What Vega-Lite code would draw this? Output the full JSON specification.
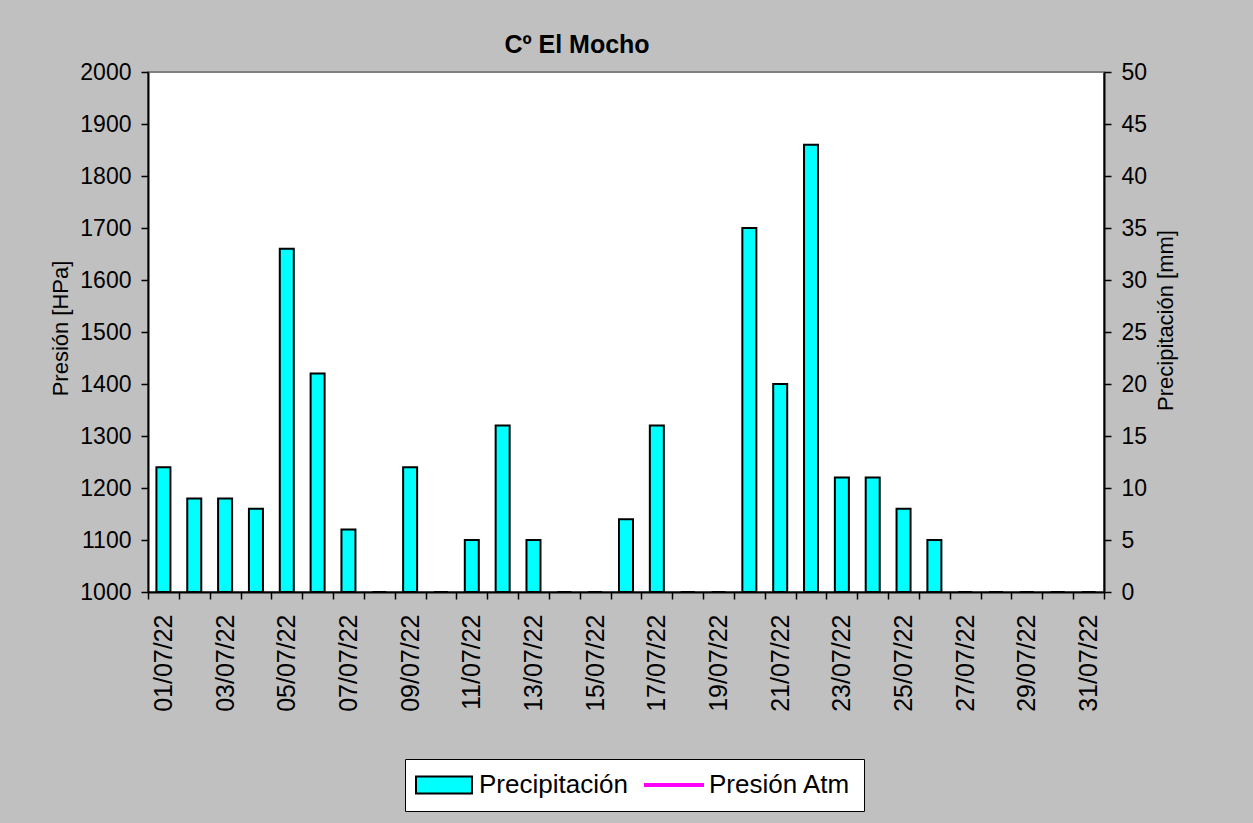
{
  "$schema": "https://vega.github.io/schema/vega-lite/v6.json",
  "width": 956,
  "height": 520,
  "autosize": {"type": "none"},
  "padding": {"left": 148, "top": 72, "right": 149, "bottom": 231},
  "background": "#C0C0C0",
  "title": {"text": "Cº El Mocho", "font": "Liberation Sans", "fontSize": 25, "fontWeight": "bold", "color": "black", "anchor": "middle", "frame": "group", "dx": -49, "dy": 34, "offset": 17, "baseline": "alphabetic"},
  "config": {
    "view": {"fill": "white", "stroke": "#808080", "strokeWidth": 2},
    "axis": {"labelFont": "Liberation Sans", "labelFontSize": 23, "labelColor": "black", "titleFont": "Liberation Sans", "titleFontSize": 22, "titleFontWeight": "normal", "titleColor": "black", "domainColor": "black", "domainWidth": 2, "tickColor": "black", "tickSize": 7, "tickWidth": 1.5, "grid": false, "labelPadding": 10}
  },
  "data": {"values": [
    {"fecha": "01/07/22", "precip": 12, "presion": null, "serie": "Precipitación"},
    {"fecha": "02/07/22", "precip": 9, "presion": null, "serie": "Precipitación"},
    {"fecha": "03/07/22", "precip": 9, "presion": null, "serie": "Precipitación"},
    {"fecha": "04/07/22", "precip": 8, "presion": null, "serie": "Precipitación"},
    {"fecha": "05/07/22", "precip": 33, "presion": null, "serie": "Precipitación"},
    {"fecha": "06/07/22", "precip": 21, "presion": null, "serie": "Precipitación"},
    {"fecha": "07/07/22", "precip": 6, "presion": null, "serie": "Precipitación"},
    {"fecha": "08/07/22", "precip": 0, "presion": null, "serie": "Precipitación"},
    {"fecha": "09/07/22", "precip": 12, "presion": null, "serie": "Precipitación"},
    {"fecha": "10/07/22", "precip": 0, "presion": null, "serie": "Precipitación"},
    {"fecha": "11/07/22", "precip": 5, "presion": null, "serie": "Precipitación"},
    {"fecha": "12/07/22", "precip": 16, "presion": null, "serie": "Precipitación"},
    {"fecha": "13/07/22", "precip": 5, "presion": null, "serie": "Precipitación"},
    {"fecha": "14/07/22", "precip": 0, "presion": null, "serie": "Precipitación"},
    {"fecha": "15/07/22", "precip": 0, "presion": null, "serie": "Precipitación"},
    {"fecha": "16/07/22", "precip": 7, "presion": null, "serie": "Precipitación"},
    {"fecha": "17/07/22", "precip": 16, "presion": null, "serie": "Precipitación"},
    {"fecha": "18/07/22", "precip": 0, "presion": null, "serie": "Precipitación"},
    {"fecha": "19/07/22", "precip": 0, "presion": null, "serie": "Precipitación"},
    {"fecha": "20/07/22", "precip": 35, "presion": null, "serie": "Precipitación"},
    {"fecha": "21/07/22", "precip": 20, "presion": null, "serie": "Precipitación"},
    {"fecha": "22/07/22", "precip": 43, "presion": null, "serie": "Precipitación"},
    {"fecha": "23/07/22", "precip": 11, "presion": null, "serie": "Precipitación"},
    {"fecha": "24/07/22", "precip": 11, "presion": null, "serie": "Precipitación"},
    {"fecha": "25/07/22", "precip": 8, "presion": null, "serie": "Precipitación"},
    {"fecha": "26/07/22", "precip": 5, "presion": null, "serie": "Precipitación"},
    {"fecha": "27/07/22", "precip": 0, "presion": null, "serie": "Precipitación"},
    {"fecha": "28/07/22", "precip": 0, "presion": null, "serie": "Precipitación"},
    {"fecha": "29/07/22", "precip": 0, "presion": null, "serie": "Precipitación"},
    {"fecha": "30/07/22", "precip": 0, "presion": null, "serie": "Precipitación"},
    {"fecha": "31/07/22", "precip": 0, "presion": null, "serie": "Precipitación"}
  ]},
  "encoding": {
    "x": {"field": "fecha", "type": "ordinal", "title": null,
      "scale": {"paddingInner": 0, "paddingOuter": 0},
      "axis": {"labelAngle": -90, "labelFontSize": 25, "tickBand": "extent", "labelOverlap": false, "labelPadding": 15,
        "labelExpr": "parseInt(substring(datum.label, 0, 2)) % 2 == 1 ? datum.label : ''"}}
  },
  "layer": [
    {
      "mark": {"type": "line", "color": "#FF00FF", "strokeWidth": 3},
      "encoding": {
        "y": {"field": "presion", "type": "quantitative",
          "scale": {"domain": [1000, 2000], "zero": false, "nice": false},
          "axis": {"orient": "left", "title": "Presión [HPa]", "format": "d",
            "titleX": -88, "titleY": 256, "titleAlign": "center", "titleBaseline": "middle", "titleAngle": 270,
            "values": [1000, 1100, 1200, 1300, 1400, 1500, 1600, 1700, 1800, 1900, 2000]}}
      }
    },
    {
      "mark": {"type": "bar", "size": 14, "stroke": "black", "strokeWidth": 2},
      "encoding": {
        "y": {"field": "precip", "type": "quantitative",
          "scale": {"domain": [0, 50], "nice": false},
          "axis": {"orient": "right", "title": "Precipitación [mm]", "format": "d",
            "titleX": 61, "titleY": 248, "titleAlign": "center", "titleBaseline": "middle", "titleAngle": 270,
            "values": [0, 5, 10, 15, 20, 25, 30, 35, 40, 45, 50]}},
        "color": {"field": "serie", "type": "nominal",
          "scale": {"domain": ["Precipitación", "Presión Atm"], "range": ["#00FFFF", "#FF00FF"]},
          "legend": {"orient": "none", "legendX": 257, "legendY": 687, "direction": "horizontal", "title": null,
            "fillColor": "white", "strokeColor": "black", "padding": 13,
            "labelFont": "Liberation Sans", "labelFontSize": 26, "labelColor": "black", "labelOffset": 22,
            "symbolSize": 400, "symbolOffset": 13, "columnPadding": 8, "symbolStrokeWidth": 2,
            "encoding": {"symbols": {
              "shape": {"value": {"expr": "datum.value === 'Presión Atm' ? 'M-3,0H3' : 'M-2.8,-0.85H2.8V0.85H-2.8Z'"}},
              "stroke": {"value": {"expr": "datum.value === 'Presión Atm' ? '#FF00FF' : 'black'"}},
              "strokeWidth": {"value": {"expr": "datum.value === 'Presión Atm' ? 4 : 2"}}
            }}}}
      }
    }
  ],
  "resolve": {"scale": {"y": "independent"}}
}
